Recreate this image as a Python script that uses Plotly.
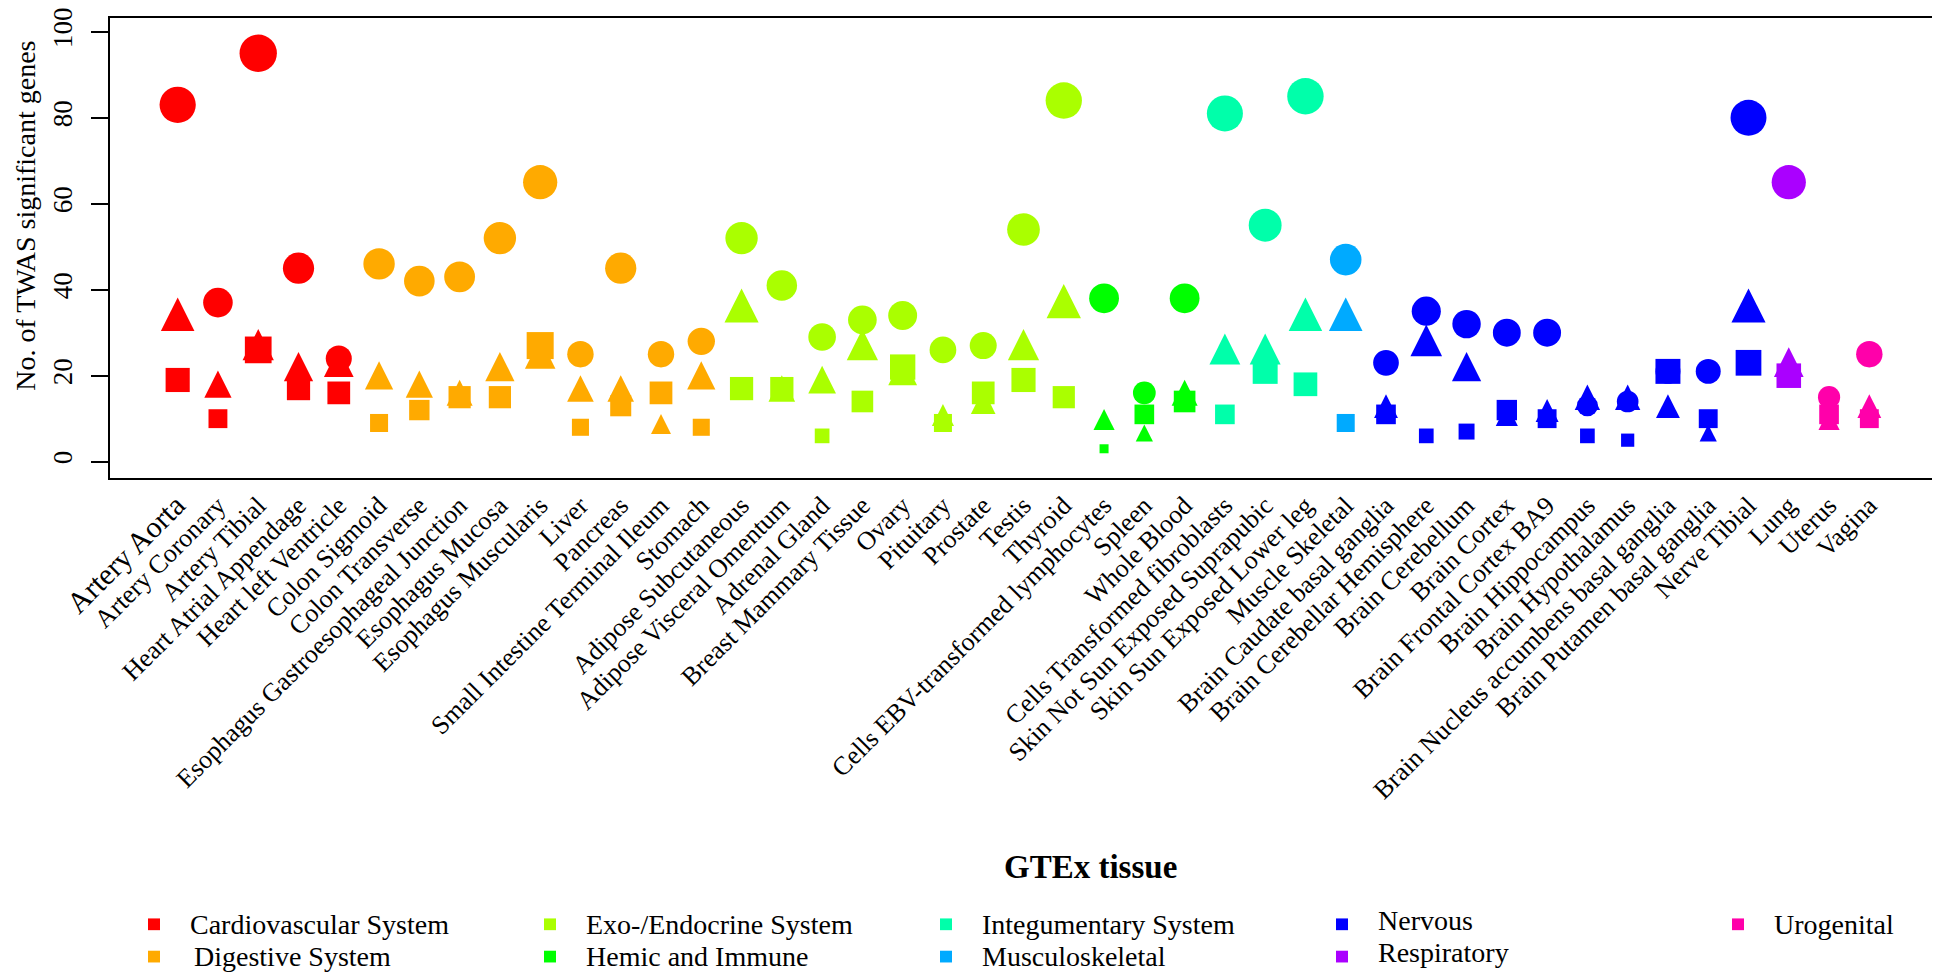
import numpy as np
import plotly.graph_objects as go

# tissues in plotting order
tissues = [
    "Artery Aorta", "Artery Coronary", "Artery Tibial", "Heart Atrial Appendage",
    "Heart left Ventricle", "Colon Sigmoid", "Colon Transverse",
    "Esophagus Gastroesophageal Junction", "Esophagus Mucosa", "Esophagus Muscularis",
    "Liver", "Pancreas", "Small Intestine Terminal Ileum", "Stomach",
    "Adipose Subcutaneous", "Adipose Visceral Omentum", "Adrenal Gland",
    "Breast Mammary Tissue", "Ovary", "Pituitary", "Prostate", "Testis", "Thyroid",
    "Cells EBV-transformed lymphocytes", "Spleen", "Whole Blood",
    "Cells Transformed fibroblasts", "Skin Not Sun Exposed Suprapubic",
    "Skin Sun Exposed Lower leg", "Muscle Skeletal", "Brain Caudate basal ganglia",
    "Brain Cerebellar Hemisphere", "Brain Cerebellum", "Brain Cortex",
    "Brain Frontal Cortex BA9", "Brain Hippocampus", "Brain Hypothalamus",
    "Brain Nucleus accumbens basal ganglia", "Brain Putamen basal ganglia",
    "Nerve Tibial", "Lung", "Uterus", "Vagina",
]

tissue_system = (
    ["Cardiovascular System"] * 5 + ["Digestive System"] * 9
    + ["Exo-/Endocrine System"] * 9 + ["Hemic and Immune"] * 3
    + ["Integumentary System"] * 3 + ["Musculoskeletal"] * 1
    + ["Nervous"] * 10 + ["Respiratory"] * 1 + ["Urogenital"] * 2
)

systems = ["Cardiovascular System", "Digestive System", "Exo-/Endocrine System",
           "Hemic and Immune", "Integumentary System", "Musculoskeletal",
           "Nervous", "Respiratory", "Urogenital"]
system_colors = ["#FF0000", "#FFAA00", "#AAFF00", "#00FF00", "#00FFAA",
                 "#00AAFF", "#0000FF", "#AA00FF", "#FF00AA"]

# number of TWAS significant genes, one series per marker shape
n_circle = [83, 37, 95, 45, 24, 46, 42, 43, 52, 65, 25, 45, 25, 28, 52, 41, 29, 33,
            34, 26, 27, 54, 84, 38, 16, 38, 81, 55, 85, 47, 23, 35, 32, 30, 30, 13,
            14, 21, 21, 80, 65, 15, 25]
n_triangle = [33, 17, 26, 21, 22, 19, 17, 15, 21, 24, 16, 16, 8, 19, 35, 16, 18, 26,
              20, 10, 13, 26, 36, 9, 6, 15, 25, 25, 33, 33, 12, 27, 21, 10, 11, 14,
              14, 12, 6, 35, 22, 9, 12]
n_square = [19, 10, 26, 17, 16, 9, 12, 15, 15, 27, 8, 13, 16, 8, 17, 17, 6, 14, 22,
            9, 16, 19, 15, 3, 11, 14, 11, 21, 18, 9, 11, 6, 7, 12, 10, 6, 5, 21, 10,
            23, 20, 11, 10]

color_of = dict(zip(systems, system_colors))
colors = [color_of[s] for s in tissue_system]

# marker size grows with log of the count
circle_size = 8.2 * np.log(n_circle)
square_size = 8.2 * np.log(n_square)
tri_size = 9.6 * np.log(n_triangle)

fig = go.Figure()
fig.add_trace(go.Scatter(
    x=tissues, y=n_circle, mode="markers", showlegend=False,
    marker=dict(symbol="circle", color=colors, size=circle_size, opacity=1,
                line=dict(width=0)),
))
# upright triangle centred on its centroid (arrow flipped, pushed up by 2/3 height)
fig.add_trace(go.Scatter(
    x=tissues, y=n_triangle, mode="markers", showlegend=False,
    marker=dict(symbol="arrow-down", angle=180, standoff=tri_size * 2 / 3,
                color=colors, size=tri_size, opacity=1, line=dict(width=0)),
))
fig.add_trace(go.Scatter(
    x=tissues, y=n_square, mode="markers", showlegend=False,
    marker=dict(symbol="square", color=colors, size=square_size, opacity=1,
                line=dict(width=0)),
))

# page is drawn with an 8px body margin; plot box in page pixels
OFF = 8
X0, X1, Y0, Y1 = 110, 1937, 8, 478


def px(v):
    return (v - X0) / (X1 - X0)


def py(v):
    return (Y1 - v) / (Y1 - Y0)


ticktext = ['<span style="font-size:30px">%s</span>' % tissues[0]] + tissues[1:]

fig.update_layout(
    width=1940, height=977,
    margin=dict(l=X0 - OFF, r=1940 - (X1 - OFF), t=Y0 - OFF, b=977 - (Y1 - OFF)),
    paper_bgcolor="white", plot_bgcolor="white",
    font=dict(family="Liberation Serif", color="black", size=26),
    xaxis=dict(range=[-1.68, 43.68], tickmode="array", tickvals=tissues, ticktext=ticktext,
               tickangle=-45, ticks="", showgrid=False, zeroline=False,
               showline=True, mirror=True, linecolor="black", linewidth=2,
               tickfont=dict(size=26)),
    yaxis=dict(range=[-3.8, 103.2], tickvals=[0, 20, 40, 60, 80, 100], tickangle=-90,
               ticks="outside", ticklen=17, tickwidth=2, tickcolor="black",
               ticklabeloverflow="allow", ticklabelstandoff=8,
               showgrid=False, zeroline=False, showline=True, mirror=True,
               linecolor="black", linewidth=2, tickfont=dict(size=27)),
)

# axis titles
fig.add_annotation(x=px(26), y=py(210), xref="paper", yref="paper",
                   text="No. of TWAS significant genes", textangle=-90, showarrow=False,
                   font=dict(size=28), xanchor="center", yanchor="middle")
fig.add_annotation(x=px(1090), y=py(875), xref="paper", yref="paper",
                   text="<b>GTEx tissue</b>", showarrow=False, font=dict(size=33),
                   xanchor="center", yanchor="middle")

# legend: 5 columns x 2 rows, filled column by column
for i, (name, col) in enumerate(zip(systems, system_colors)):
    cx = 154 + (i // 2) * 396
    cy = 934 + (i % 2) * 33
    tx = cx + 34 + (4 if name == "Digestive System" else 0)
    ty = cy - (4 if i // 2 == 3 else 0)
    fig.add_shape(type="rect", xref="paper", yref="paper",
                  x0=px(cx - 6), x1=px(cx + 6), y0=py(cy + 6), y1=py(cy - 6),
                  fillcolor=col, line=dict(width=0))
    fig.add_annotation(x=px(tx), y=py(ty), xref="paper", yref="paper",
                       text=name, showarrow=False, font=dict(size=28),
                       xanchor="left", yanchor="middle")

fig.write_html("out.html")
